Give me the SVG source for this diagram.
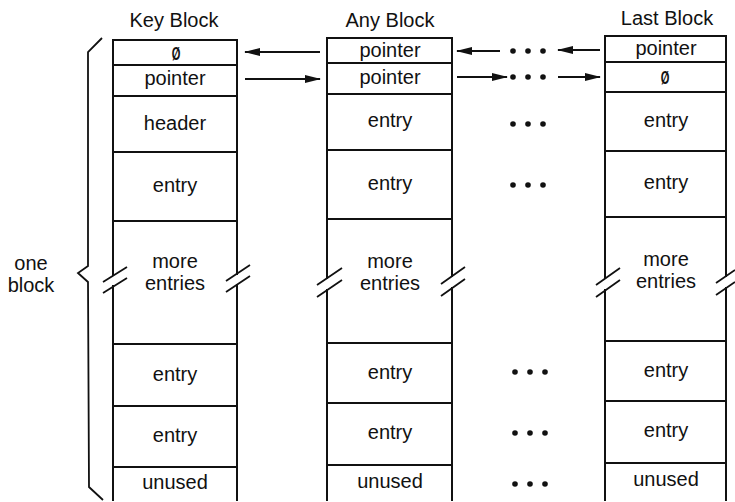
<svg xmlns="http://www.w3.org/2000/svg" width="735" height="502" viewBox="0 0 735 502">
  <style>
    .ln { stroke: #111; stroke-width: 2; fill: none; stroke-linecap: square; }
    .dv { stroke: #111; stroke-width: 1.8; fill: none; }
    .brk { stroke: #111; stroke-width: 1.8; fill: none; }
    .t { font-family: "Liberation Sans", Arial, sans-serif; font-size: 20px; fill: #111; text-anchor: middle; }
    .z { font-family: "Liberation Sans", Arial, sans-serif; font-size: 18px; font-weight: bold; fill: #111; text-anchor: middle; }
    .ar { stroke: #111; stroke-width: 1.8; fill: none; marker-end: url(#head); }
    .dot { fill: #111; }
  </style>
  <defs>
    <marker id="head" viewBox="0 0 16 10" refX="15" refY="5" markerWidth="16" markerHeight="10" markerUnits="userSpaceOnUse" orient="auto">
      <path d="M0,1 L16,5 L0,9 Z" fill="#111"/>
    </marker>
  </defs>
  <rect width="735" height="502" fill="#fff"/>

  <!-- titles -->
  <text class="t" x="174" y="27">Key Block</text>
  <text class="t" x="390" y="27">Any Block</text>
  <text class="t" x="667" y="25">Last Block</text>

  <!-- brace and its label -->
  <g id="brace">
    <path class="dv" d="M102,38 L88,52 L88,266 L78,273 L88,282 L89,487 L103,500"/>
    <text class="t" x="31" y="270">one</text>
    <text class="t" x="31" y="292">block</text>
  </g>

  <!-- Key Block -->
  <g id="key-block">
    <path class="ln" d="M113,40 H237 M113,40 V275 M113,286 V500 M237,40 V274 M237,285 V500"/>
    <path class="dv" d="M113,65 H237 M113,96 H237 M113,152 H237 M113,221 H237 M113,344 H237 M113,406 H237 M113,467 H237"/>
    <path class="brk" d="M103,282 L127,267 M103,293 L127,278 M226,281 L250,265 M226,292 L250,276"/>
    <text class="z" transform="translate(176,60) scale(0.62,1)">Ø</text>
    <text class="t" x="175" y="85">pointer</text>
    <text class="t" x="175" y="130">header</text>
    <text class="t" x="175" y="192">entry</text>
    <text class="t" x="175" y="268">more</text>
    <text class="t" x="175" y="290">entries</text>
    <text class="t" x="175" y="381">entry</text>
    <text class="t" x="175" y="442">entry</text>
    <text class="t" x="175" y="489">unused</text>
  </g>

  <!-- Any Block -->
  <g id="any-block">
    <path class="ln" d="M327,38 H452 M327,38 V278 M327,290 V500 M452,38 V276 M452,288 V500"/>
    <path class="dv" d="M327,63 H452 M327,94 H452 M327,150 H452 M327,219 H452 M327,343 H452 M327,403 H452 M327,465 H452"/>
    <path class="brk" d="M317,285 L342,268 M317,297 L342,280 M441,284 L465,267 M441,296 L465,279"/>
    <text class="t" x="390" y="57">pointer</text>
    <text class="t" x="390" y="84">pointer</text>
    <text class="t" x="390" y="127">entry</text>
    <text class="t" x="390" y="190">entry</text>
    <text class="t" x="390" y="268">more</text>
    <text class="t" x="390" y="290">entries</text>
    <text class="t" x="390" y="379">entry</text>
    <text class="t" x="390" y="439">entry</text>
    <text class="t" x="390" y="488">unused</text>
  </g>

  <!-- Last Block -->
  <g id="last-block">
    <path class="ln" d="M605,36 H726 M605,36 V278 M605,290 V500 M726,36 V276 M726,288 V500"/>
    <path class="dv" d="M605,62 H726 M605,92 H726 M605,151 H726 M605,217 H726 M605,341 H726 M605,401 H726 M605,463 H726"/>
    <path class="brk" d="M596,285 L620,268 M596,297 L620,280 M716,283 L735,270 M716,295 L735,282"/>
    <text class="t" x="666" y="55">pointer</text>
    <text class="z" transform="translate(665,84) scale(0.62,1)">Ø</text>
    <text class="t" x="666" y="127">entry</text>
    <text class="t" x="666" y="189">entry</text>
    <text class="t" x="666" y="266">more</text>
    <text class="t" x="666" y="288">entries</text>
    <text class="t" x="666" y="377">entry</text>
    <text class="t" x="666" y="437">entry</text>
    <text class="t" x="666" y="486">unused</text>
  </g>

  <!-- pointer links between blocks -->
  <g id="connectors">
    <line class="ar" x1="320" y1="52" x2="245" y2="52"/>
    <line class="ar" x1="245" y1="79" x2="320" y2="79"/>
    <line class="ar" x1="500" y1="51" x2="457" y2="51"/>
    <line class="ar" x1="600" y1="50" x2="558" y2="50"/>
    <line class="ar" x1="457" y1="77" x2="507" y2="77"/>
    <line class="ar" x1="558" y1="77" x2="600" y2="77"/>
  </g>

  <!-- ellipsis dots standing for blocks in between -->
  <g id="ellipses">
    <circle class="dot" cx="513" cy="51" r="2.8"/><circle class="dot" cx="528" cy="51" r="2.8"/><circle class="dot" cx="543" cy="51" r="2.8"/>
    <circle class="dot" cx="513" cy="77" r="2.8"/><circle class="dot" cx="528" cy="77" r="2.8"/><circle class="dot" cx="543" cy="77" r="2.8"/>
    <circle class="dot" cx="513" cy="124" r="2.8"/><circle class="dot" cx="528" cy="124" r="2.8"/><circle class="dot" cx="543" cy="124" r="2.8"/>
    <circle class="dot" cx="513" cy="185" r="2.8"/><circle class="dot" cx="528" cy="185" r="2.8"/><circle class="dot" cx="543" cy="185" r="2.8"/>
    <circle class="dot" cx="515" cy="372" r="2.8"/><circle class="dot" cx="530" cy="372" r="2.8"/><circle class="dot" cx="545" cy="372" r="2.8"/>
    <circle class="dot" cx="515" cy="433" r="2.8"/><circle class="dot" cx="530" cy="433" r="2.8"/><circle class="dot" cx="545" cy="433" r="2.8"/>
    <circle class="dot" cx="515" cy="484" r="2.8"/><circle class="dot" cx="530" cy="484" r="2.8"/><circle class="dot" cx="545" cy="484" r="2.8"/>
  </g>
</svg>
